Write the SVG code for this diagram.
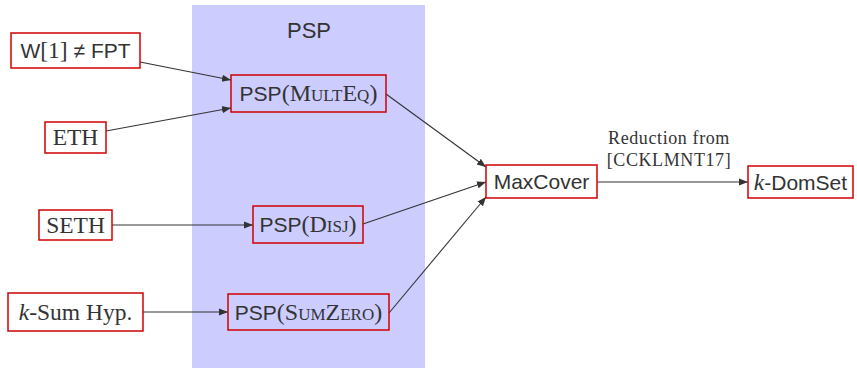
<svg xmlns="http://www.w3.org/2000/svg" width="857" height="368" viewBox="0 0 857 368">
<defs>
<style>
.box{fill:#fff;stroke:#d00000;stroke-width:1.5}
.pbox{fill:none;stroke:#d00000;stroke-width:1.5}
.sans{font-family:"Liberation Sans",Arial,sans-serif;font-size:21px;fill:#333}
.serif{font-family:"Liberation Serif","Times New Roman",serif;font-size:23.5px;fill:#333}
.sc{font-family:"Liberation Serif",serif;font-variant:small-caps;font-size:24px}
.lbl{font-family:"Liberation Serif",serif;font-size:18px;letter-spacing:0.6px;fill:#333}
.edge{stroke:#333;stroke-width:1.1;fill:none;marker-end:url(#ah)}
</style>
<marker id="ah" viewBox="0 0 10 10" refX="10" refY="5" markerWidth="9" markerHeight="9" markerUnits="userSpaceOnUse" orient="auto">
<path d="M0,1 L10,5 L0,9 z" fill="#333"/>
</marker>
</defs>
<rect x="192" y="5" width="233" height="363" fill="#ccccff"/>
<text x="309" y="38" text-anchor="middle" class="sans" style="font-size:22px">PSP</text>

<g id="edges">
<line class="edge" x1="140" y1="62" x2="231" y2="80"/>
<line class="edge" x1="106" y1="131" x2="231" y2="108"/>
<line class="edge" x1="112" y1="225" x2="253" y2="225"/>
<line class="edge" x1="143" y1="312" x2="228" y2="312"/>
<line class="edge" x1="386" y1="94" x2="486" y2="167"/>
<line class="edge" x1="363" y1="224" x2="486" y2="182"/>
<line class="edge" x1="389" y1="313" x2="486" y2="197"/>
<line class="edge" x1="597" y1="182" x2="748" y2="182"/>
<text x="669" y="144" text-anchor="middle" class="lbl">Reduction from</text>
<text x="669" y="166" text-anchor="middle" class="lbl">[CCKLMNT17]</text>
</g>

<g id="n-w1">
<rect class="box" x="11" y="33" width="129" height="35"/>
<text x="75.5" y="58" text-anchor="middle" class="sans">W<tspan class="serif">[1]</tspan> ≠ FPT</text>
</g>
<g id="n-eth">
<rect class="box" x="45" y="122" width="61" height="31"/>
<text x="75.5" y="145" text-anchor="middle" class="serif">ETH</text>
</g>
<g id="n-seth">
<rect class="box" x="39" y="210" width="73" height="30"/>
<text x="75.5" y="233" text-anchor="middle" class="serif">SETH</text>
</g>
<g id="n-ksum">
<rect class="box" x="8" y="293" width="135" height="38"/>
<text x="75.5" y="320" text-anchor="middle" class="serif"><tspan font-style="italic">k</tspan>-Sum Hyp.</text>
</g>
<g id="n-multeq">
<rect class="pbox" x="231" y="75" width="155" height="37"/>
<text x="308.5" y="101" text-anchor="middle" class="sans">PSP<tspan class="sc">(MultEq)</tspan></text>
</g>
<g id="n-disj">
<rect class="pbox" x="253" y="206" width="110" height="37"/>
<text x="308" y="232" text-anchor="middle" class="sans">PSP<tspan class="sc">(Disj)</tspan></text>
</g>
<g id="n-sumzero">
<rect class="pbox" x="228" y="294" width="161" height="36"/>
<text x="308.5" y="320" text-anchor="middle" class="sans">PSP<tspan class="sc">(SumZero)</tspan></text>
</g>
<g id="n-maxcover">
<rect class="box" x="486" y="165" width="111" height="33"/>
<text x="541.5" y="189" text-anchor="middle" class="sans">MaxCover</text>
</g>
<g id="n-kdomset">
<rect class="box" x="748" y="166" width="105" height="32"/>
<text x="800.5" y="190" text-anchor="middle" class="sans"><tspan class="serif" font-style="italic">k</tspan>-DomSet</text>
</g>
</svg>
